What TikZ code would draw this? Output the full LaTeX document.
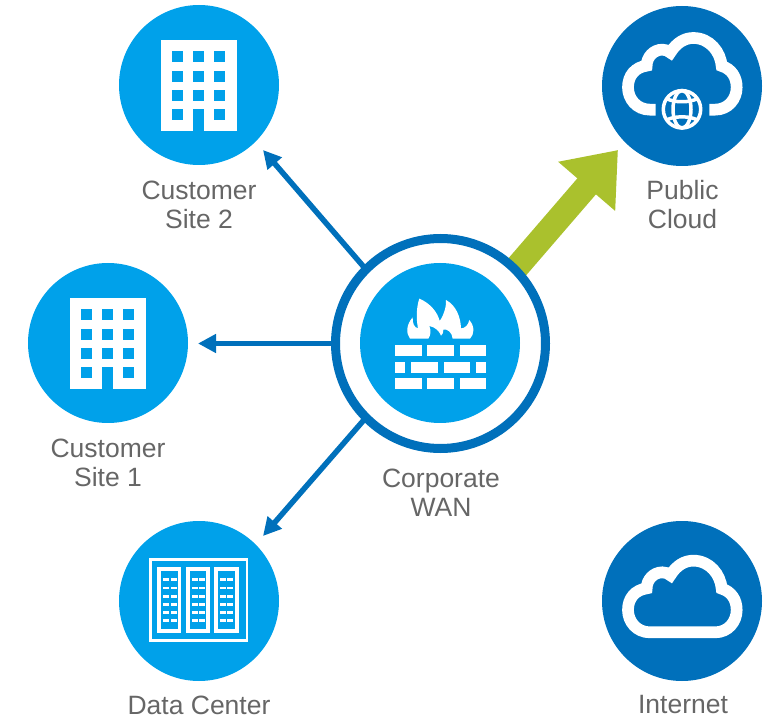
\documentclass[tikz,border=0pt]{standalone}
\usepackage{fontspec}
\setmainfont{Liberation Sans}
\usetikzlibrary{arrows.meta,backgrounds}
\definecolor{lightblue}{RGB}{0,161,234}
\definecolor{darkblue}{RGB}{0,112,187}
\definecolor{leaf}{RGB}{170,193,45}
\definecolor{labelgray}{RGB}{102,102,102}
\tikzset{
  x=1pt,y=-1pt,
  disc/.style={circle,fill=#1,minimum size=160pt,inner sep=0pt,outer sep=0pt},
  ringnode/.style={circle,draw=darkblue,line width=9pt,fill=white,minimum size=210pt,inner sep=0pt},
  lbl/.style={text=labelgray,align=center,inner sep=0pt,font=\fontsize{26.5}{29}\selectfont},
  thinarrow/.style={draw=darkblue,line width=5.5pt,shorten <=-3pt,-{Triangle[length=18pt,width=18pt]}},
  fatarrow/.style={draw=leaf,line width=24.5pt,shorten <=-6pt,-{Triangle[length=48pt,width=72pt]}},
  cloudline/.style={draw=white,line width=11.7pt,miter limit=4},
  buildingicon/.pic={
    \fill[white] (-38,-45) rectangle (37.5,46);
    \foreach \cx in {-27,-6,15}
      \foreach \cy in {-34,-14,5.3}
        \fill[lightblue] (\cx,\cy) rectangle +(11,10.8);
    \fill[lightblue] (-27,24.3) rectangle +(11,10.8);
    \fill[lightblue] (15,24.3) rectangle +(11,10.8);
    \fill[lightblue] (-6,24.3) rectangle (5,46.5);
  },
  firewallicon/.pic={
    \foreach \ya in {2,35}{
      \fill[white] (-45,\ya) rectangle (-18.3,\ya+11);
      \fill[white] (-12.7,\ya) rectangle (13.7,\ya+11);
      \fill[white] (19.7,\ya) rectangle (46,\ya+11);
    }
    \fill[white] (-45,18.7) rectangle (-34.7,29.7);
    \fill[white] (-29,18.7) rectangle (-2.3,29.7);
    \fill[white] (3.7,18.7) rectangle (30,29.7);
    \fill[white] (36,18.7) rectangle (46,29.7);
    \begin{scope}[scale=1/3,shift={(-135,-144)}]
      \fill[white] (45,131) .. controls (33,115) and (33,90) .. (53,67)
        .. controls (52,85) and (58,98) .. (69,100)
        .. controls (62,65) and (66,30) .. (73,11)
        .. controls (105,24) and (128,52) .. (134,78)
        .. controls (147,60) and (154,35) .. (153,15)
        .. controls (182,30) and (197,65) .. (198,100)
        .. controls (210,100) and (220,90) .. (223,75)
        .. controls (240,95) and (238,118) .. (225,131)
        -- (173,131) .. controls (172,112) and (155,100) .. (145,104)
        .. controls (146,112) and (143,118) .. (138,122)
        .. controls (133,108) and (120,96) .. (103,93)
        .. controls (108,105) and (108,120) .. (100,131) -- cycle;
    \end{scope}
  },
  racksicon/.pic={
    \begin{scope}[scale=1/3,shift={(-237,-213)}]
      \draw[white,line width=2.5pt] (91.5,88.5) rectangle (380.5,331.5);
      \foreach \xa/\xb in {112/184,198/270,282/356}
        \draw[white,line width=3.7pt] (\xa+5.5,117.5) rectangle (\xb-5.5,302.5);
      \foreach \xa in {129,215,299}
        \foreach \ya in {145,170,195,219,244,268}{
          \fill[white] (\xa,\ya) rectangle +(18,8);
          \fill[white] (\xa+23,\ya) rectangle +(18,8);
        }
    \end{scope}
  },
  inetcloud/.pic={
    \begin{scope}[scale=1/3,shift={(-246,-243)}]
      \draw[cloudline] (150,337) .. controls (110,337) and (84,305) .. (84,270)
        .. controls (84,235) and (105,210) .. (140,205)
        .. controls (140,180) and (160,157) .. (187,157)
        .. controls (197,157) and (205,160) .. (211,166)
        .. controls (230,135) and (255,122) .. (280,122)
        .. controls (330,122) and (362,165) .. (365,206)
        .. controls (395,215) and (410,240) .. (410,270)
        .. controls (410,305) and (385,337) .. (345,337) -- cycle;
    \end{scope}
  },
  publiccloud/.pic={
    \begin{scope}[scale=1/3,shift={(-246,-266)}]
      \draw[cloudline] (167,337) -- (150,337) .. controls (110,337) and (84,305) .. (84,270)
        .. controls (84,235) and (105,210) .. (140,205)
        .. controls (140,180) and (160,157) .. (187,157)
        .. controls (197,157) and (205,160) .. (211,166)
        .. controls (230,135) and (255,122) .. (280,122)
        .. controls (330,122) and (362,165) .. (365,206)
        .. controls (395,215) and (410,240) .. (410,270)
        .. controls (410,305) and (385,337) .. (345,337) -- (328,337);
    \end{scope}
    \begin{scope}[shift={(0,23.3)},white,line width=3.5pt]
      \draw (0,0) circle[radius=18.7];
      \draw (0,0) ellipse[x radius=9,y radius=18.7];
      \draw (-15.3,-10.7) .. controls (-8,-6.5) and (8,-6.5) .. (15.3,-10.7);
      \draw (-15.3,10.7) .. controls (-8,6.5) and (8,6.5) .. (15.3,10.7);
    \end{scope}
  }
}
\begin{document}
\begin{tikzpicture}
\useasboundingbox (0,0) rectangle (769,719);
\node[disc=lightblue] (site2) at (199,85) {};
\node[disc=lightblue] (site1) at (108,343) {};
\node[disc=lightblue] (dc) at (199,601) {};
\node[disc=darkblue] (pub) at (682,86) {};
\node[disc=darkblue] (inet) at (682,601) {};
\node[ringnode] (ring) at (440.5,343.5) {};
\node[disc=lightblue] (wan) at (440,343) {};
\coordinate (tipsite2) at (263,150);
\coordinate (tipsite1) at (198,343.5);
\coordinate (tipdc) at (263,536);
\coordinate (tippub) at (618,150);
\begin{scope}[on background layer]
  \draw[fatarrow] (ring.45) -- (tippub);
  \draw[thinarrow] (ring.135) -- (tipsite2);
  \draw[thinarrow] (ring.180) -- (tipsite1);
  \draw[thinarrow] (ring.225) -- (tipdc);
\end{scope}
\pic at (site2) {buildingicon};
\pic at (site1) {buildingicon};
\pic at (wan) {firewallicon};
\pic at (dc) {racksicon};
\pic at (pub) {publiccloud};
\pic at (inet) {inetcloud};
\node[lbl] (lsite2) at (199,205) {Customer\\Site 2};
\node[lbl] (lsite1) at (108,463) {Customer\\Site 1};
\node[lbl] (lwan) at (441,493) {Corporate\\WAN};
\node[lbl] (lpub) at (682.5,205) {Public\\Cloud};
\node[lbl] (ldc) at (199,705) {Data Center};
\node[lbl] (linet) at (683,705) {Internet};
\end{tikzpicture}
\end{document}
